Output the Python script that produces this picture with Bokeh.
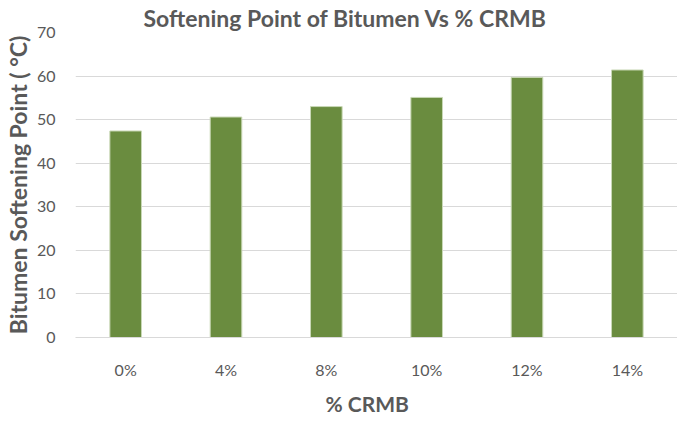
from bokeh.plotting import figure
from bokeh.models import ColumnDataSource, FactorRange, Range1d, FixedTicker, Title
from bokeh.embed import file_html
from bokeh.resources import INLINE

categories = ["0%", "4%", "8%", "10%", "12%", "14%"]
softening_point = [47.4, 50.6, 53.0, 55.1, 59.7, 61.4]
y_ticks = [0, 10, 20, 30, 40, 50, 60, 70]

FONT = "Lato"
GREY = "#595959"

src = ColumnDataSource(dict(cat=categories, val=softening_point))

p = figure(frame_width=602, frame_height=305, output_backend="svg", toolbar_location=None,
           x_range=FactorRange(*categories, range_padding=0),
           y_range=Range1d(0, 70),
           min_border_left=0, min_border_right=0, min_border_bottom=0, min_border_top=0,
           title="Softening Point of Bitumen Vs % CRMB")

p.vbar(x="cat", top="val", source=src, width=0.315,
       fill_color="#6A8C3F", line_color="#C9D8B6", line_width=1)

p.title.align = "left"
p.title.offset = 68
p.title.text_font = FONT
p.title.text_font_size = "23px"
p.title.text_font_style = "bold"
p.title.text_color = GREY
p.title.standoff = 2

p.outline_line_color = None
p.xgrid.grid_line_color = None
p.ygrid.grid_line_color = "#D9D9D9"
p.ygrid.grid_line_width = 1

p.yaxis.ticker = FixedTicker(ticks=y_ticks)
p.yaxis.axis_line_color = None
p.yaxis.major_tick_line_color = None
p.yaxis.major_tick_out = 0
p.yaxis.minor_tick_line_color = None
p.yaxis.major_label_text_font = FONT
p.yaxis.major_label_text_font_size = "16px"
p.yaxis.major_label_text_color = GREY
p.yaxis.major_label_standoff = 20
p.yaxis.axis_label = "Bitumen Softening Point ( °C)"
p.yaxis.axis_label_text_font = FONT
p.yaxis.axis_label_text_font_size = "23px"
p.yaxis.axis_label_text_font_style = "bold"
p.yaxis.axis_label_text_color = GREY
p.yaxis.axis_label_standoff = 2

p.xaxis.axis_line_color = "#D9D9D9"
p.xaxis.major_tick_line_color = None
p.xaxis.major_tick_out = 0
p.xaxis.minor_tick_line_color = None
p.xaxis.major_label_text_font = FONT
p.xaxis.major_label_text_font_size = "16px"
p.xaxis.major_label_text_color = GREY
p.xaxis.major_label_standoff = 22

p.add_layout(Title(text="% CRMB", align="left", offset=250, text_font=FONT,
                   text_font_size="21px", text_font_style="bold", text_color=GREY,
                   standoff=14), "below")

open("out.html", "w").write(file_html(p, INLINE))
